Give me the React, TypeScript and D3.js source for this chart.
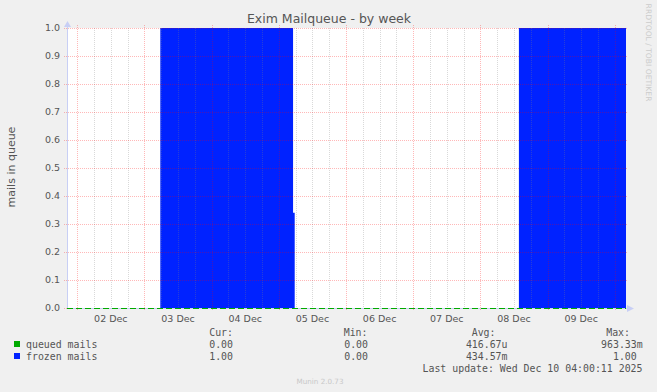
import React from "react";
import * as d3 from "d3";

const W = 657;
const H = 392;

const title = "Exim Mailqueue - by week";
const yLabel = "mails in queue";
const rangeStart = "2025-12-01 20:20:11";
const rangeEnd = "2025-12-10 04:00:11";
const yTicks = [0, 0.1, 0.2, 0.3, 0.4, 0.5, 0.6, 0.7, 0.8, 0.9, 1.0];

const frozenTimes = [
  "2025-12-01 20:20:11",
  "2025-12-03 05:40:00",
  "2025-12-05 05:05:00",
  "2025-12-05 05:40:00",
  "2025-12-08 13:45:00",
  "2025-12-10 04:00:11",
];
const frozenValues = [0, 1, 0.34, 0, 1, 1];

const queuedTimes = ["2025-12-01 20:20:11", "2025-12-10 04:00:11"];
const queuedValues = [0, 0];

const seriesNames = ["queued mails", "frozen mails"];
const seriesColors = ["#00aa00", "#0022ff"];
const curVals = ["0.00", "1.00"];
const minVals = ["0.00", "0.00"];
const avgVals = ["416.67u", "434.57m"];
const maxVals = ["963.33m", "1.00"];
const lastUpdate = "Last update: Wed Dec 10 04:00:11 2025";
const footer = "Munin 2.0.73";
const sideText = "RRDTOOL / TOBI OETIKER";

const parse = d3.timeParse("%Y-%m-%d %H:%M:%S");

export default function App() {
  const left = 67;
  const right = 626;
  const top = 28;
  const bottom = 308;

  const x = d3.scaleTime().domain([parse(rangeStart)!, parse(rangeEnd)!]).range([left, right]);
  const y = d3.scaleLinear().domain([0, 1]).range([bottom, top]);

  const days = d3.timeDay.range(d3.timeDay.ceil(x.domain()[0]), x.domain()[1]);
  const sixHours = d3.timeHour
    .every(6)!
    .range(x.domain()[0], x.domain()[1])
    .filter((d) => d.getHours() !== 0);
  const noons = d3.timeDay
    .range(d3.timeDay.floor(x.domain()[0]), x.domain()[1])
    .map((d) => d3.timeHour.offset(d, 12))
    .filter((d) => x(d) > left && x(d) < right);
  const fmt = d3.timeFormat("%d %b");

  const frozen = frozenTimes.map((t, i) => ({ t: parse(t)!, v: frozenValues[i] }));
  const area = d3
    .area<{ t: Date; v: number }>()
    .x((d) => x(d.t))
    .y0(y(0))
    .y1((d) => y(d.v))
    .curve(d3.curveStepAfter);

  const queued = queuedTimes.map((t, i) => ({ t: parse(t)!, v: queuedValues[i] }));
  const line = d3
    .line<{ t: Date; v: number }>()
    .x((d) => x(d.t))
    .y((d) => y(d.v));

  const axisColor = "#c8cff5";
  const majorGrid = "rgba(255,0,0,0.28)";
  const minorGrid = "rgba(128,128,128,0.3)";
  const textColor = "#555";
  const mono = "'DejaVu Sans Mono', monospace";
  const sans = "'DejaVu Sans', sans-serif";
  const cw = 5.96;

  return (
    <svg
      width={W}
      height={H}
      style={{ position: "absolute", left: 0, top: 0, background: "#f0f0f0" }}
      xmlns="http://www.w3.org/2000/svg"
    >
      <rect x={0} y={0} width={W} height={H} fill="#f0f0f0" />
      <rect x={left} y={top} width={right - left} height={bottom - top} fill="#ffffff" />

      <path d={area(frozen)!} fill={seriesColors[1]} />

      {/* minor grid */}
      {sixHours.map((d, i) => (
        <line
          key={"m" + i}
          x1={Math.round(x(d)) + 0.5}
          x2={Math.round(x(d)) + 0.5}
          y1={top}
          y2={bottom + 2}
          stroke={minorGrid}
          strokeDasharray="1,1"
        />
      ))}
      {/* major vertical grid */}
      {days.map((d, i) => (
        <line
          key={"d" + i}
          x1={Math.round(x(d)) + 0.5}
          x2={Math.round(x(d)) + 0.5}
          y1={top - 3}
          y2={bottom + 3}
          stroke={majorGrid}
          strokeDasharray="1,1"
        />
      ))}
      {/* horizontal grid */}
      {yTicks.map((t, i) => (
        <line
          key={"h" + i}
          x1={left - 3}
          x2={right + 2}
          y1={Math.round(y(t)) + 0.5}
          y2={Math.round(y(t)) + 0.5}
          stroke={majorGrid}
          strokeDasharray="1,1"
        />
      ))}

      {/* axes */}
      <line x1={left + 0.5} x2={left + 0.5} y1={bottom} y2={top - 4} stroke={axisColor} />
      <path d={`M${left - 3},${top - 1} L${left + 0.5},${top - 7} L${left + 4},${top - 1} Z`} fill={axisColor} />
      <line x1={left} x2={right + 4} y1={bottom + 0.5} y2={bottom + 0.5} stroke={axisColor} />
      <path d={`M${right + 1},${bottom - 3} L${right + 8},${bottom + 0.5} L${right + 1},${bottom + 4} Z`} fill={axisColor} />

      {/* queued line */}
      <path d={line(queued)!} fill="none" stroke={seriesColors[0]} strokeWidth={1.2} strokeDasharray="6,3" transform="translate(0,0.5)" />

      {/* y tick labels */}
      {yTicks.map((t, i) => (
        <text
          key={"yl" + i}
          x={left - 7}
          y={y(t)}
          dy="0.35em"
          textAnchor="end"
          fontFamily={sans}
          fontSize={9.5}
          fill={textColor}
        >
          {t.toFixed(1)}
        </text>
      ))}
      {/* x tick labels */}
      {noons.map((d, i) => (
        <text
          key={"xl" + i}
          x={x(d)}
          y={bottom + 14}
          textAnchor="middle"
          fontFamily={sans}
          fontSize={9.5}
          fill={textColor}
        >
          {fmt(d)}
        </text>
      ))}

      <text x={329} y={23} textAnchor="middle" fontFamily={sans} fontSize={12.5} fill={textColor}>
        {title}
      </text>
      <text
        transform={`translate(15,${(top + bottom) / 2 - 1}) rotate(-90)`}
        textAnchor="middle"
        fontFamily={sans}
        fontSize={11}
        fill={textColor}
      >
        {yLabel}
      </text>
      <text
        transform={`translate(645.5,52.5) rotate(90)`}
        textAnchor="middle"
        fontFamily={sans}
        fontSize={7.6}
        fill="#cccccc"
      >
        {sideText}
      </text>

      {/* legend */}
      <g fontFamily={mono} fontSize={9.9} fill={textColor}>
        <text x={233} y={336} textAnchor="end">Cur:</text>
        <text x={367.5} y={336} textAnchor="end">Min:</text>
        <text x={495.5} y={336} textAnchor="end">Avg:</text>
        <text x={630} y={336} textAnchor="end">Max:</text>
        {seriesNames.map((n, i) => {
          const yy = 348 + i * 12;
          const sfx = (s: string) => (/[a-zA-Z]$/.test(s) ? 0 : cw);
          return (
            <g key={"lg" + i}>
              <rect x={14} y={yy - 7} width={6} height={6} fill={seriesColors[i]} />
              <text x={26} y={yy}>{n}</text>
              <text x={233 - sfx(curVals[i]) + cw} y={yy} textAnchor="end">{curVals[i]}</text>
              <text x={368 - sfx(minVals[i]) + cw} y={yy} textAnchor="end">{minVals[i]}</text>
              <text x={507.5 - sfx(avgVals[i])} y={yy} textAnchor="end">{avgVals[i]}</text>
              <text x={642.7 - sfx(maxVals[i])} y={yy} textAnchor="end">{maxVals[i]}</text>
            </g>
          );
        })}
        <text x={642.5} y={372} textAnchor="end">{lastUpdate}</text>
      </g>
      <text x={320} y={384} textAnchor="middle" fontFamily={sans} fontSize={7.2} fill="#c8c8c8">
        {footer}
      </text>
    </svg>
  );
}
